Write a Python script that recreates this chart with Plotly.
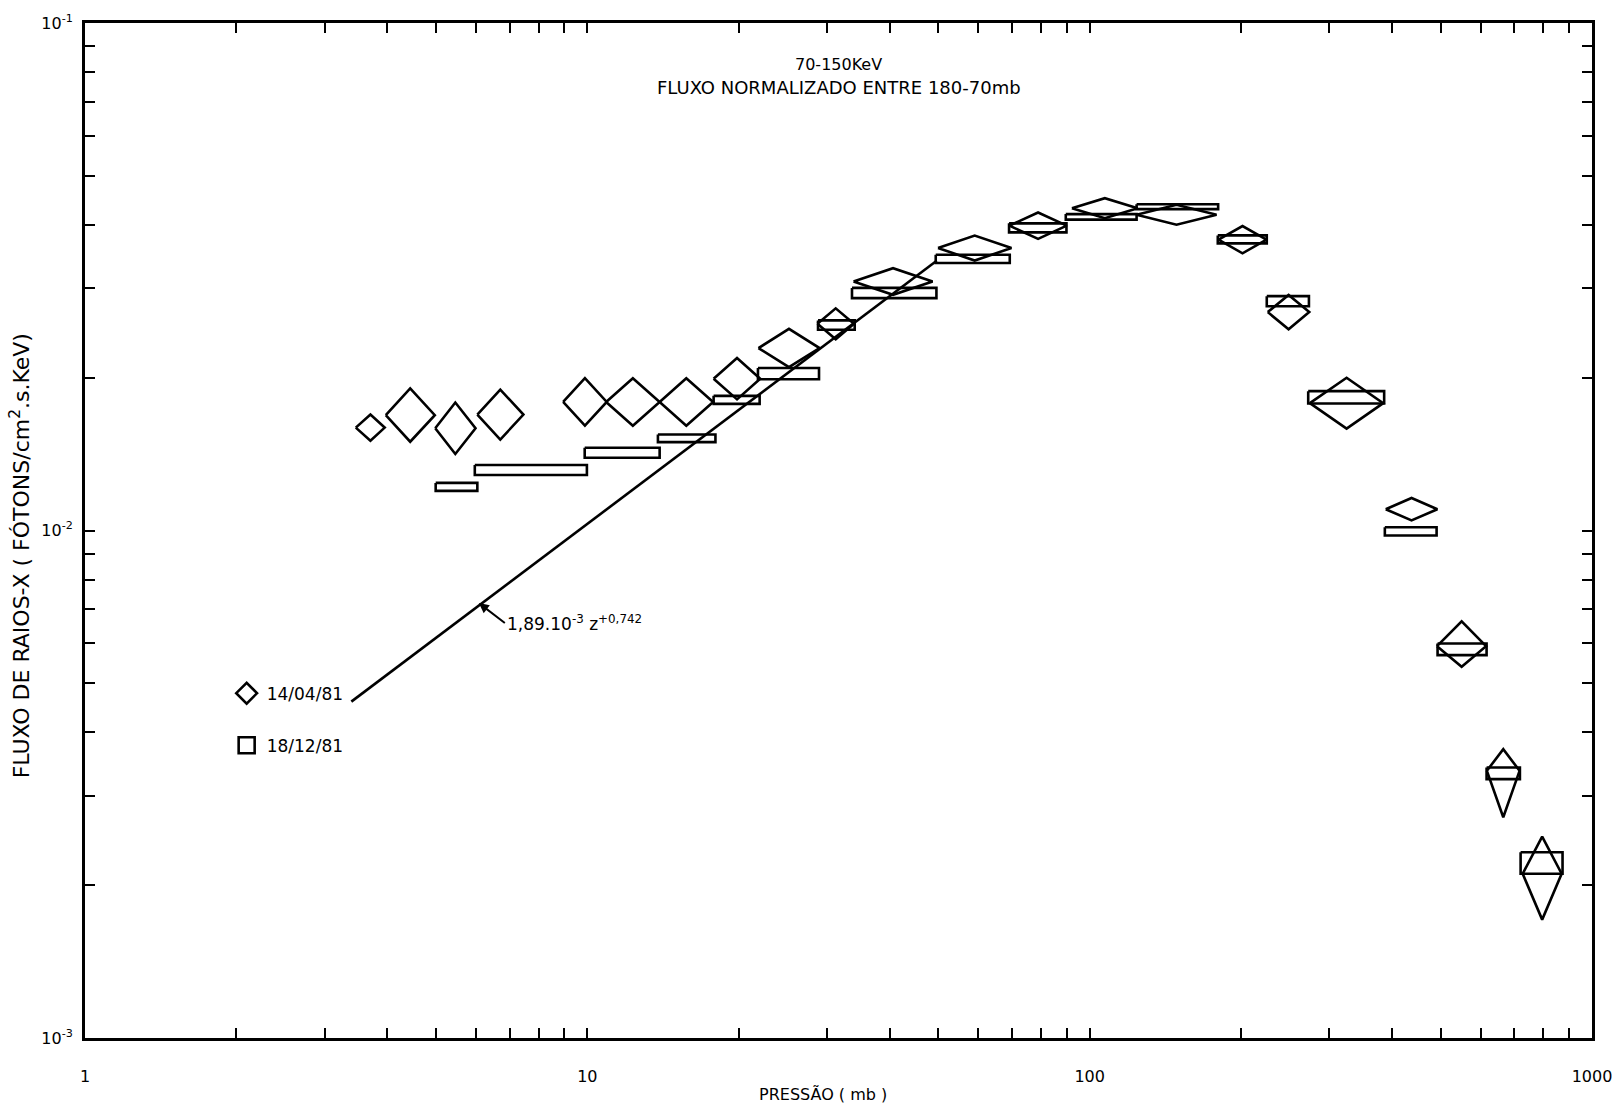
import plotly.graph_objects as go

# ---------------- data ----------------
# 14/04/81 : diamonds (centre pressure, pressure interval, flux and flux interval)
d_p = [3.70, 4.44, 5.46, 6.71, 9.89, 12.32, 15.74, 19.86, 25.20, 31.22, 40.60,
       59.04, 78.94, 107.2, 148.9, 201.5, 248.9, 324.7, 437.3, 550.2, 665.8, 795.8]
d_p_lo = [3.46, 3.97, 4.98, 6.04, 8.95, 10.90, 13.93, 17.84, 21.91, 28.71, 33.88,
          49.90, 69.20, 92.19, 124.0, 180.5, 226.2, 274.4, 388.5, 491.5, 617.7, 727.8]
d_p_hi = [3.95, 4.97, 5.99, 7.46, 10.93, 13.93, 17.80, 22.09, 28.99, 33.95, 48.67,
          69.87, 90.03, 124.6, 178.9, 224.9, 273.6, 384.0, 492.2, 615.3, 717.5, 870.1]
d_f = [1.595e-2, 1.687e-2, 1.590e-2, 1.692e-2, 1.792e-2, 1.792e-2, 1.792e-2, 1.991e-2,
       2.288e-2, 2.555e-2, 3.095e-2, 3.603e-2, 3.987e-2, 4.317e-2, 4.190e-2, 3.742e-2,
       2.694e-2, 1.782e-2, 1.101e-2, 5.917e-3, 3.361e-3, 2.107e-3]
d_f_hi = [1.693e-2, 1.905e-2, 1.787e-2, 1.895e-2, 1.996e-2, 1.996e-2, 1.996e-2, 2.188e-2,
          2.496e-2, 2.740e-2, 3.287e-2, 3.812e-2, 4.233e-2, 4.517e-2, 4.383e-2, 3.981e-2,
          2.912e-2, 2.000e-2, 1.159e-2, 6.625e-3, 3.709e-3, 2.494e-3]
d_f_lo = [1.503e-2, 1.496e-2, 1.415e-2, 1.511e-2, 1.609e-2, 1.609e-2, 1.609e-2, 1.813e-2,
          2.098e-2, 2.381e-2, 2.913e-2, 3.404e-2, 3.754e-2, 4.126e-2, 4.005e-2, 3.517e-2,
          2.491e-2, 1.588e-2, 1.047e-2, 5.387e-3, 2.722e-3, 1.711e-3]

# 18/12/81 : rectangles (pressure interval x flux interval)
r_p_lo = [4.99, 5.97, 9.88, 13.82, 17.84, 21.86, 28.79, 33.64, 49.38, 69.11, 89.63,
          124.0, 179.9, 225.2, 272.3, 386.9, 492.7, 616.8, 720.9]
r_p_hi = [6.04, 9.98, 13.93, 17.99, 22.03, 28.92, 34.06, 49.54, 69.33, 89.91, 124.0,
          180.2, 225.2, 273.2, 385.7, 490.5, 616.8, 718.6, 873.7]
r_f_hi = [1.241e-2, 1.346e-2, 1.456e-2, 1.546e-2, 1.842e-2, 2.090e-2, 2.594e-2, 3.006e-2,
          3.495e-2, 4.029e-2, 4.202e-2, 4.395e-2, 3.815e-2, 2.896e-2, 1.882e-2, 1.015e-2,
          5.990e-3, 3.412e-3, 2.323e-3]
r_f_lo = [1.197e-2, 1.286e-2, 1.391e-2, 1.493e-2, 1.776e-2, 1.986e-2, 2.486e-2, 2.870e-2,
          3.366e-2, 3.868e-2, 4.097e-2, 4.297e-2, 3.680e-2, 2.767e-2, 1.779e-2, 9.777e-3,
          5.681e-3, 3.237e-3, 2.107e-3]

# fitted power law 1,89.10^-3 z^+0,742 (end points)
fit_p = [3.39, 49.6]
fit_f = [4.60e-3, 3.40e-2]

x_tick_vals = [1, 10, 100, 1000]
x_tick_labels = ["1", "10", "100", "1000"]
x_minor_vals = [2, 3, 4, 5, 6, 7, 8, 9, 20, 30, 40, 50, 60, 70, 80, 90,
                200, 300, 400, 500, 600, 700, 800, 900]
y_tick_vals = [1e-3, 1e-2, 1e-1]
y_tick_labels = ["10<sup>-3</sup>", "10<sup>-2</sup>", "10<sup>-1</sup>"]
y_minor_vals = [2e-3, 3e-3, 4e-3, 5e-3, 6e-3, 7e-3, 8e-3, 9e-3,
                2e-2, 3e-2, 4e-2, 5e-2, 6e-2, 7e-2, 8e-2, 9e-2]

series_names = ["14/04/81", "18/12/81"]

FONT = "DejaVu Sans"
INK = "black"

# ---------------- build outlines ----------------
dx, dy = [], []
for p, pl, ph, f, fh, fl in zip(d_p, d_p_lo, d_p_hi, d_f, d_f_hi, d_f_lo):
    dx += [pl, p, ph, p, pl, None]
    dy += [f, fh, f, fl, f, None]

rx, ry = [], []
for pl, ph, fh, fl in zip(r_p_lo, r_p_hi, r_f_hi, r_f_lo):
    rx += [pl, ph, ph, pl, pl, None]
    ry += [fh, fh, fl, fl, fh, None]

fig = go.Figure()
fig.add_trace(go.Scatter(x=dx, y=dy, mode="lines", line=dict(color=INK, width=2.6),
                         showlegend=False, hoverinfo="skip"))
fig.add_trace(go.Scatter(x=rx, y=ry, mode="lines", line=dict(color=INK, width=2.6),
                         showlegend=False, hoverinfo="skip"))
fig.add_trace(go.Scatter(x=fit_p, y=fit_f, mode="lines", line=dict(color=INK, width=2.6),
                         showlegend=False))
# legend entries
fig.add_trace(go.Scatter(x=[None], y=[None], mode="markers", name=series_names[0],
                         legendgroup="a",
                         marker=dict(symbol="diamond-open", size=21, color=INK,
                                     line=dict(width=2.6, color=INK))))
fig.add_trace(go.Scatter(x=[None], y=[None], mode="markers", name=series_names[1],
                         legendgroup="b",
                         marker=dict(symbol="square-open", size=21, color=INK,
                                     line=dict(width=2.6, color=INK))))

axis_common = dict(
    type="log", showgrid=False, zeroline=False,
    showline=True, linewidth=3, linecolor=INK, mirror="allticks",
    ticks="inside", ticklen=10, tickwidth=2, tickcolor=INK,
    tickfont=dict(family=FONT, size=16, color=INK),
)

fig.update_layout(
    width=1624, height=1111,
    margin=dict(l=85, r=32, t=20, b=73),
    paper_bgcolor="white", plot_bgcolor="white",
    font=dict(family=FONT, color=INK),
    xaxis=dict(range=[0, 3], tickmode="array", tickvals=x_tick_vals,
               ticktext=x_tick_labels, ticklabelstandoff=22,
               minor=dict(tickmode="array", tickvals=x_minor_vals, ticks="inside",
                          ticklen=10, tickwidth=2, tickcolor=INK, showgrid=False),
               **axis_common),
    yaxis=dict(range=[-3, -1], tickmode="array", tickvals=y_tick_vals,
               ticktext=y_tick_labels, ticklabelstandoff=6,
               minor=dict(tickmode="array", tickvals=y_minor_vals, ticks="inside",
                          ticklen=10, tickwidth=2, tickcolor=INK, showgrid=False),
               **axis_common),
    legend=dict(x=0.094, y=0.357, xanchor="left", yanchor="top",
                bgcolor="rgba(0,0,0,0)", borderwidth=0, tracegroupgap=27,
                font=dict(family=FONT, size=17, color=INK)),
    annotations=[
        dict(text="70-150KeV", xref="paper", yref="paper", x=0.5, y=0.959,
             xanchor="center", yanchor="middle", showarrow=False, font=dict(size=16)),
        dict(text="FLUXO NORMALIZADO ENTRE 180-70mb", xref="paper", yref="paper",
             x=0.5, y=0.936, xanchor="center", yanchor="middle", showarrow=False,
             font=dict(size=18)),
        dict(text="PRESSÃO ( mb )", xref="paper", yref="paper", x=0.49, y=-0.056,
             xanchor="center", yanchor="middle", showarrow=False, font=dict(size=16)),
        dict(text="FLUXO DE RAIOS-X ( FÓTONS/cm<sup>2</sup>.s.KeV)", xref="paper",
             yref="paper", x=-0.0435, y=0.475, xanchor="center", yanchor="middle",
             textangle=-90, showarrow=False, font=dict(size=22)),
        dict(text="1,89.10<sup>-3</sup> z<sup>+0,742</sup>", x=0.784, y=-2.143,
             xref="x", yref="y", showarrow=True, arrowhead=2, arrowsize=1,
             arrowwidth=2, arrowcolor=INK, ax=26, ay=20, xanchor="left",
             yanchor="middle", font=dict(size=17)),
    ],
)

fig.write_html("out.html", config={"displayModeBar": False},
               post_script="document.body.style.margin='0';document.body.style.overflow='hidden';")
